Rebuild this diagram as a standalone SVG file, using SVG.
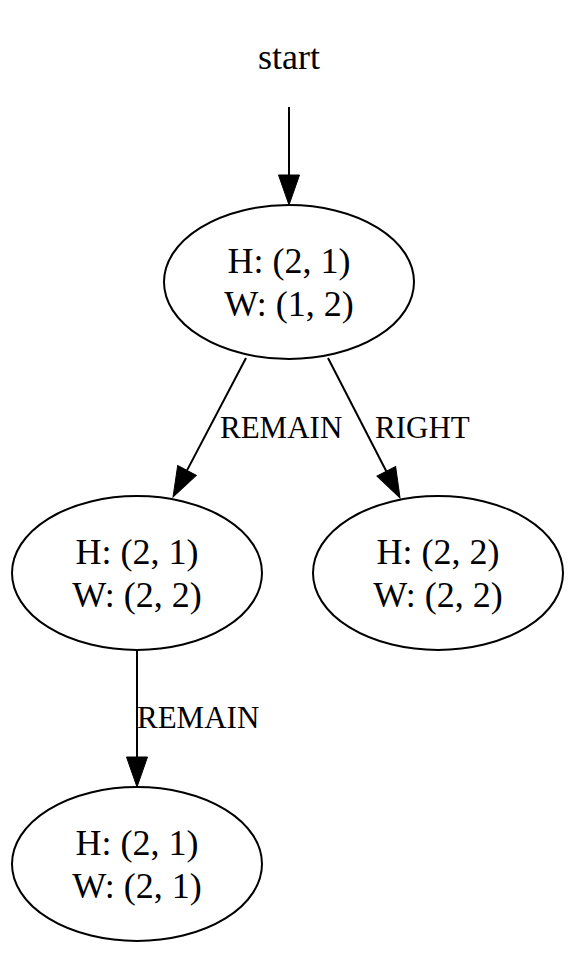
<svg xmlns="http://www.w3.org/2000/svg" width="576" height="954" viewBox="0 0 576 954">
<style>
.node ellipse{fill:none;stroke:#000;stroke-width:2}
.nt{font-family:"Liberation Serif","Times New Roman",serif;font-size:36px;fill:#000;text-anchor:middle}
.el{font-family:"Liberation Serif","Times New Roman",serif;font-size:31px;fill:#000}
.edge line{stroke:#000;stroke-width:2}
</style>
<defs>
<marker id="arr" markerUnits="userSpaceOnUse" markerWidth="31" markerHeight="22" refX="0" refY="10.5" orient="auto" overflow="visible">
<path d="M0,0 L30,10.5 L0,21 Z" fill="#000" stroke="#000" stroke-width="1"/>
</marker>
</defs>
<rect width="576" height="954" fill="#fff"/>
<g id="start"><text class="nt" x="289" y="69">start</text></g>
<g id="n0" class="node">
<ellipse cx="289" cy="282" rx="125" ry="77"/>
<text class="nt" x="289" y="273">H: (2, 1)</text>
<text class="nt" x="289" y="316">W: (1, 2)</text>
</g>
<g id="n1" class="node">
<ellipse cx="137" cy="573" rx="125" ry="77"/>
<text class="nt" x="137" y="564">H: (2, 1)</text>
<text class="nt" x="137" y="607">W: (2, 2)</text>
</g>
<g id="n2" class="node">
<ellipse cx="438" cy="573" rx="125" ry="77"/>
<text class="nt" x="438" y="564">H: (2, 2)</text>
<text class="nt" x="438" y="607">W: (2, 2)</text>
</g>
<g id="n3" class="node">
<ellipse cx="137" cy="864" rx="125" ry="77"/>
<text class="nt" x="137" y="855">H: (2, 1)</text>
<text class="nt" x="137" y="898">W: (2, 1)</text>
</g>
<g id="edges" class="edge">
<line x1="289" y1="107" x2="289" y2="175" marker-end="url(#arr)"/>
<line x1="246" y1="358" x2="187" y2="470.4" marker-end="url(#arr)"/>
<text class="el" x="220" y="438">REMAIN</text>
<line x1="328" y1="358" x2="386.3" y2="471.3" marker-end="url(#arr)"/>
<text class="el" x="375" y="438">RIGHT</text>
<line x1="137" y1="650" x2="137" y2="757" marker-end="url(#arr)"/>
<text class="el" x="137" y="728">REMAIN</text>
</g>
</svg>
